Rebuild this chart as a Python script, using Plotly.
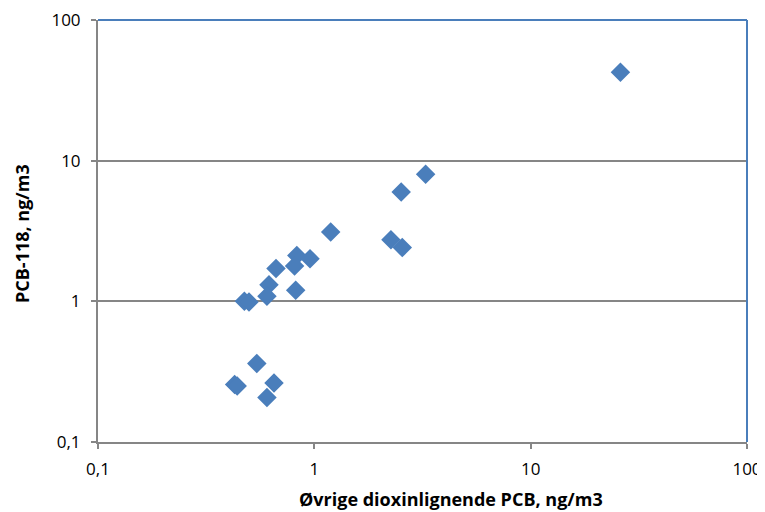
import plotly.graph_objects as go

# Data (x: Øvrige dioxinlignende PCB, y: PCB-118, ng/m3)
x_values = [3.27, 2.52, 1.19, 2.26, 2.55, 0.83, 0.955, 0.81, 0.665, 0.617, 0.82,
            0.604, 0.475, 0.499, 0.542, 0.428, 0.44, 0.651, 0.604, 26.0]
y_values = [8.0, 5.98, 3.11, 2.74, 2.41, 2.12, 2.01, 1.78, 1.71, 1.31, 1.20,
            1.085, 1.0, 0.99, 0.361, 0.256, 0.25, 0.263, 0.207, 42.6]

tick_vals = [0.1, 1, 10, 100]
tick_text = ["0,1", "1", "10", "100"]

x_title = "Øvrige dioxinlignende PCB, ng/m3"
y_title = "PCB-118, ng/m3"

blue = "#4A7EBB"
gray = "#868686"
font_family = "Open Sans, Liberation Sans, Arial, sans-serif"

fig = go.Figure()
fig.add_trace(go.Scatter(
    x=x_values, y=y_values, mode="markers",
    marker=dict(symbol="diamond", size=15, color=blue, line=dict(width=0)),
    showlegend=False, hoverinfo="x+y",
))

fig.update_layout(
    template="none",
    width=757, height=504,
    autosize=False,
    margin=dict(l=90, r=18, t=12, b=70, pad=0),
    paper_bgcolor="white", plot_bgcolor="white",
    separators=", ",
    font=dict(family=font_family, size=17, color="#000000"),
    xaxis=dict(
        type="log", range=[-1, 2], tickvals=tick_vals, ticktext=tick_text,
        automargin=False, ticklabeloverflow="allow",
        showgrid=False, zeroline=False, showline=True, linecolor=gray, linewidth=2,
        ticks="outside", ticklen=5, tickcolor=gray, tickwidth=2,
        ticklabelstandoff=6, tickfont=dict(size=17),
    ),
    yaxis=dict(
        type="log", range=[-1, 2], tickvals=tick_vals, ticktext=tick_text,
        automargin=False, ticklabeloverflow="allow",
        showgrid=True, gridcolor=gray, gridwidth=1.5, zeroline=False,
        showline=True, linecolor=gray, linewidth=2,
        ticks="outside", ticklen=5, tickcolor=gray, tickwidth=2,
        ticklabelstandoff=7, tickfont=dict(size=17),
    ),
    shapes=[
        dict(type="line", xref="paper", yref="paper", x0=0, x1=1, y0=1, y1=1,
             line=dict(color=blue, width=2)),
        dict(type="line", xref="paper", yref="paper", x0=1, x1=1, y0=0, y1=1,
             line=dict(color=blue, width=2)),
    ],
    annotations=[
        dict(text="<b>" + x_title + "</b>", xref="paper", yref="paper",
             x=0.544, y=-0.135, xanchor="center", yanchor="middle", showarrow=False,
             font=dict(size=18)),
        dict(text="<b>" + y_title + "</b>", xref="paper", yref="paper",
             x=-0.117, y=0.493, xanchor="center", yanchor="middle", showarrow=False,
             textangle=-90, font=dict(size=18)),
    ],
)

fig.write_html("out.html")
